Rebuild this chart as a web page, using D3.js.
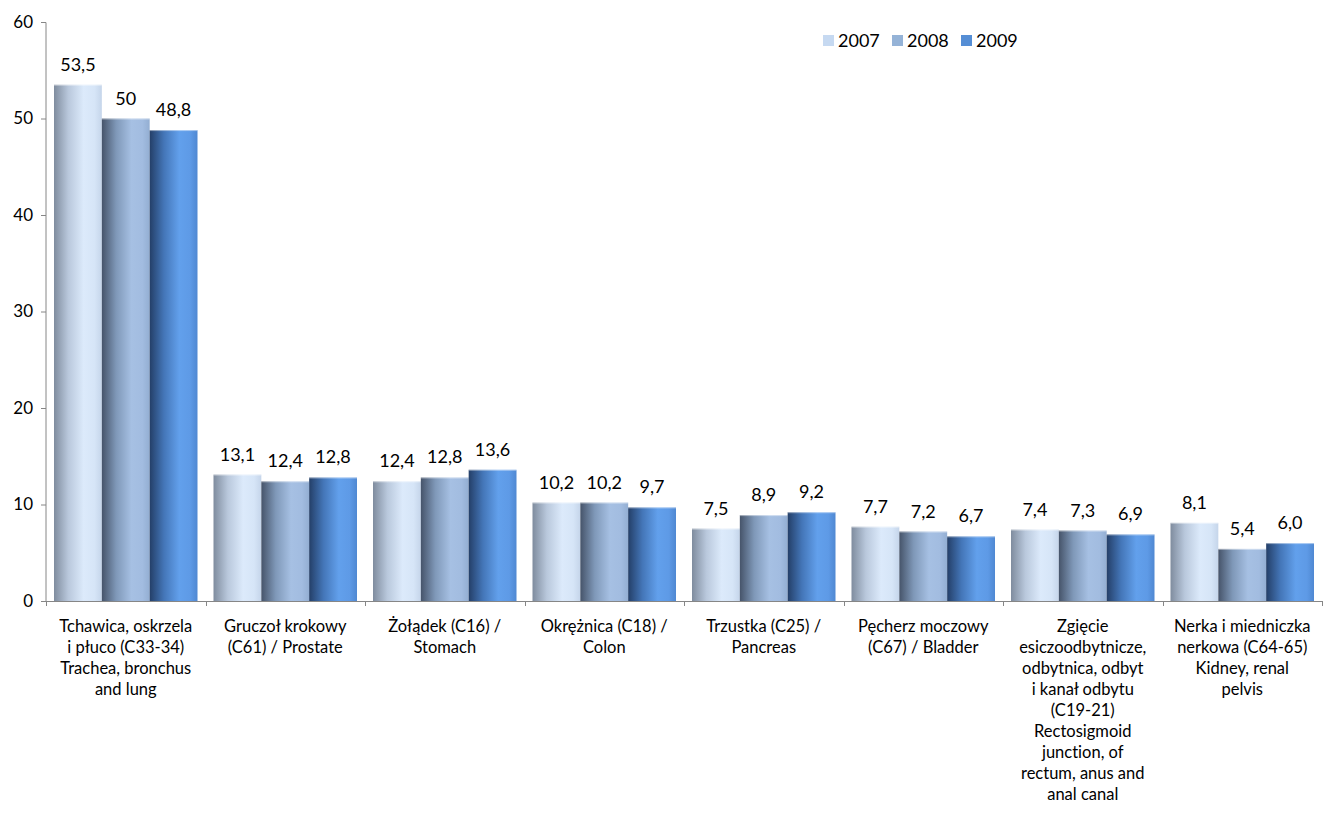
<!DOCTYPE html>
<html>
<head>
<meta charset="utf-8">
<script src="https://cdn.jsdelivr.net/npm/d3@7"></script>
<style>
  html, body { margin: 0; padding: 0; background: #fff; }
  svg { display: block; font-family: "Lato", "Open Sans", sans-serif; font-variant-ligatures: none; }
</style>
</head>
<body>
<svg id="chart" width="1323" height="815"></svg>
<script>
// Category labels (one entry per line of text)
const categories = [
  ["Tchawica, oskrzela", "i płuco (C33-34)", "Trachea, bronchus", "and lung"],
  ["Gruczoł krokowy", "(C61) / Prostate"],
  ["Żołądek (C16) /", "Stomach"],
  ["Okrężnica (C18) /", "Colon"],
  ["Trzustka (C25) /", "Pancreas"],
  ["Pęcherz moczowy", "(C67) / Bladder"],
  ["Zgięcie", "esiczoodbytnicze,", "odbytnica, odbyt", "i kanał odbytu", "(C19-21)", "Rectosigmoid", "junction, of", "rectum, anus and", "anal canal"],
  ["Nerka i miedniczka", "nerkowa (C64-65)", "Kidney, renal", "pelvis"]
];
const seriesNames = ["2007", "2008", "2009"];
const values2007 = [53.5, 13.1, 12.4, 10.2, 7.5, 7.7, 7.4, 8.1];
const values2008 = [50, 12.4, 12.8, 10.2, 8.9, 7.2, 7.3, 5.4];
const values2009 = [48.8, 12.8, 13.6, 9.7, 9.2, 6.7, 6.9, 6.0];
// Printed value labels (as shown above each bar)
const labels2007 = ["53,5", "13,1", "12,4", "10,2", "7,5", "7,7", "7,4", "8,1"];
const labels2008 = ["50", "12,4", "12,8", "10,2", "8,9", "7,2", "7,3", "5,4"];
const labels2009 = ["48,8", "12,8", "13,6", "9,7", "9,2", "6,7", "6,9", "6,0"];
const yTicks = [0, 10, 20, 30, 40, 50, 60];

const series = [
  { name: seriesNames[0], values: values2007, labels: labels2007 },
  { name: seriesNames[1], values: values2008, labels: labels2008 },
  { name: seriesNames[2], values: values2009, labels: labels2009 }
];

// Gradient stops per series: dark left edge, bright highlight, softer right edge
const gradientStops = [
  ["#7f8c9e", "#b9c8dc", "#dceafb", "#d6e5f7", "#c5d5ea"],
  ["#46546a", "#7f98b8", "#a6c0e3", "#a2bce0", "#93aed2"],
  ["#243f68", "#4476b8", "#62a0ec", "#5e9ae6", "#4f88d2"]
];
const legendColors = ["#c6d9f1", "#95b3d7", "#558ed5"];

const svg = d3.select("#chart");
const margin = { left: 46, right: 1, top: 22, bottom: 214 };
const W = 1323, H = 815;
const x0 = margin.left, x1 = W - margin.right;
const yTop = margin.top, yBot = H - margin.bottom;

const defs = svg.append("defs");
gradientStops.forEach((stops, i) => {
  const g = defs.append("linearGradient")
    .attr("id", "grad" + i)
    .attr("x1", "0%").attr("x2", "100%").attr("y1", "0%").attr("y2", "0%");
  const offs = [0, 0.3, 0.62, 0.85, 1];
  stops.forEach((c, k) => g.append("stop").attr("offset", offs[k]).attr("stop-color", c));
});

const x = d3.scaleBand()
  .domain(d3.range(categories.length))
  .range([x0, x1])
  .paddingInner(0)
  .paddingOuter(0);

const xInner = d3.scaleBand()
  .domain(d3.range(series.length))
  .range([8, x.bandwidth() - 8]);

const y = d3.scaleLinear().domain([0, 60]).range([yBot, yTop]);

// Bars
const groups = svg.append("g").selectAll("g")
  .data(categories)
  .join("g")
  .attr("transform", (d, i) => `translate(${x(i)},0)`);

series.forEach((s, si) => {
  groups.append("rect")
    .attr("x", xInner(si))
    .attr("width", xInner.bandwidth())
    .attr("y", (d, i) => y(s.values[i]))
    .attr("height", (d, i) => yBot - y(s.values[i]))
    .attr("fill", `url(#grad${si})`);
  // thin light rim along the top of each bar
  groups.append("line")
    .attr("x1", xInner(si))
    .attr("x2", xInner(si) + xInner.bandwidth())
    .attr("y1", (d, i) => y(s.values[i]) + 0.5)
    .attr("y2", (d, i) => y(s.values[i]) + 0.5)
    .attr("stroke", "#ffffff")
    .attr("stroke-opacity", 0.45);
  groups.append("text")
    .attr("x", xInner(si) + xInner.bandwidth() / 2)
    .attr("y", (d, i) => y(s.values[i]) - 14)
    .attr("text-anchor", "middle")
    .attr("font-size", 18)
    .attr("fill", "#000")
    .text((d, i) => s.labels[i]);
});

// Y axis
const yAxis = d3.axisLeft(y).tickValues(yTicks).tickSize(5).tickPadding(8)
  .tickFormat(d3.format("d"));
const gy = svg.append("g").attr("transform", `translate(${x0},0)`).call(yAxis);
gy.select(".domain").attr("stroke", "#868686").attr("d", `M-5,${yTop + 0.5}H0V${yBot}`);
gy.selectAll(".tick line").attr("stroke", "#868686");
gy.selectAll(".tick text").attr("font-size", 17).attr("fill", "#000").attr("font-family", "Lato, sans-serif");

// X axis baseline and category separators
const gx = svg.append("g").attr("transform", `translate(0,${yBot})`);
gx.append("line").attr("x1", x0).attr("x2", x1).attr("y1", 0.5).attr("y2", 0.5).attr("stroke", "#868686");
gx.selectAll("line.sep")
  .data(d3.range(categories.length + 1))
  .join("line")
  .attr("class", "sep")
  .attr("x1", i => Math.round(x0 + i * x.bandwidth()) + 0.5)
  .attr("x2", i => Math.round(x0 + i * x.bandwidth()) + 0.5)
  .attr("y1", 0).attr("y2", 5)
  .attr("stroke", "#868686");

// Category labels
const catText = gx.selectAll("text.cat")
  .data(categories)
  .join("text")
  .attr("class", "cat")
  .attr("text-anchor", "middle")
  .attr("font-size", 16.5)
  .attr("fill", "#000")
  .attr("transform", (d, i) => `translate(${x(i) + x.bandwidth() / 2},31)`);
catText.selectAll("tspan")
  .data(d => d)
  .join("tspan")
  .attr("x", 0)
  .attr("y", (d, k) => k * 21)
  .text(d => d);

// Legend
const legend = svg.append("g").attr("transform", "translate(823,35)");
const legendX = [0, 69, 138];
series.forEach((s, si) => {
  const g = legend.append("g").attr("transform", `translate(${legendX[si]},0)`);
  g.append("rect").attr("width", 11).attr("height", 11).attr("fill", legendColors[si]);
  g.append("text").attr("x", 15).attr("y", 12).attr("font-size", 18).attr("fill", "#000").text(s.name);
});
</script>
</body>
</html>
